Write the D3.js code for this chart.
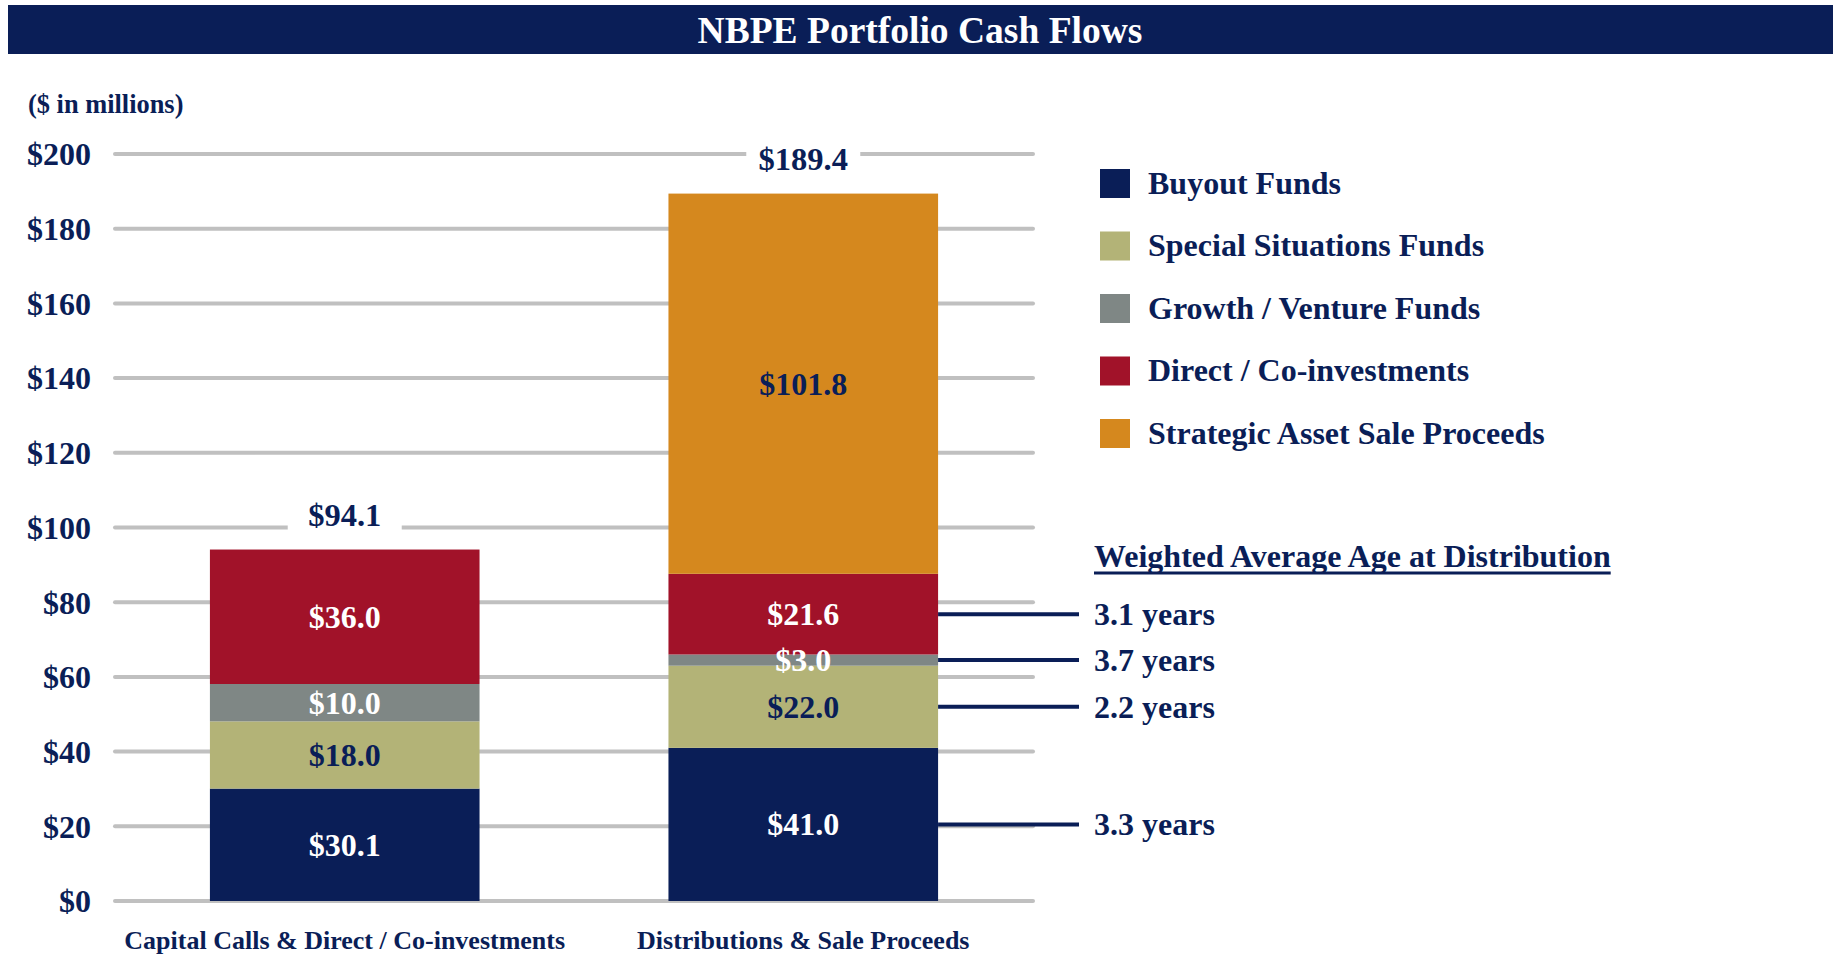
<!DOCTYPE html>
<html><head><meta charset="utf-8">
<script src="https://cdn.jsdelivr.net/npm/d3@7"></script>
<style>
html,body{margin:0;padding:0;background:#fff;}
svg{display:block;font-family:"Liberation Serif","Times New Roman",serif;font-weight:bold;}
</style></head>
<body>
<svg id="chart" width="1835" height="955"></svg>
<script>
// ---- data ----
const categories = ["Capital Calls & Direct / Co-investments", "Distributions & Sale Proceeds"];
const seriesNames = ["Buyout Funds", "Special Situations Funds", "Growth / Venture Funds", "Direct / Co-investments", "Strategic Asset Sale Proceeds"];
const buyout = [30.1, 41.0];
const specialSituations = [18.0, 22.0];
const growthVenture = [10.0, 3.0];
const directCoinv = [36.0, 21.6];
const strategicSale = [0, 101.8];
const totals = [94.1, 189.4];
const yTicks = [0, 20, 40, 60, 80, 100, 120, 140, 160, 180, 200];
const ageLabels = ["3.3 years", "2.2 years", "3.7 years", "3.1 years"]; // buyout, special, growth, direct
const colors = ["#0A1E57", "#B3B377", "#7F8785", "#A11229", "#D5881E"];
const labelColors = ["#fff", "#0A1E57", "#fff", "#fff", "#0A1E57"];
const navy = "#0A1E57";

const svg = d3.select("#chart");

// header
svg.append("rect").attr("x", 8).attr("y", 5).attr("width", 1825).attr("height", 49).attr("fill", navy);
svg.append("text").attr("x", 920).attr("y", 43).attr("text-anchor", "middle")
  .attr("fill", "#fff").attr("font-size", 37.5).text("NBPE Portfolio Cash Flows");

svg.append("text").attr("x", 28).attr("y", 113).attr("fill", navy).attr("font-size", 26.4).text("($ in millions)");

const x = d3.scaleBand().domain(categories).range([115, 1033]).paddingInner(0.412).paddingOuter(0.207);
const y = d3.scaleLinear().domain([0, 200]).range([901, 154]);

// gridlines
svg.append("g").selectAll("line").data(yTicks).join("line")
  .attr("x1", 115).attr("x2", 1033)
  .attr("y1", d => y(d)).attr("y2", d => y(d))
  .attr("stroke", "#C0C0C0").attr("stroke-width", 4).attr("stroke-linecap", "round");

// y axis labels
const yAxis = d3.axisLeft(y).tickValues(yTicks).tickSize(0).tickPadding(0).tickFormat(d => "$" + d);
const gy = svg.append("g").attr("transform", "translate(91,0)").call(yAxis);
gy.select(".domain").remove();
gy.selectAll("text").attr("fill", navy).attr("font-size", 32).attr("font-family", "Liberation Serif")
  .attr("font-weight", "bold").attr("dy", "0.34em");

// stacked data
const rows = categories.map((c, i) => ({
  cat: c, s0: buyout[i], s1: specialSituations[i], s2: growthVenture[i], s3: directCoinv[i], s4: strategicSale[i]
}));
const keys = ["s0", "s1", "s2", "s3", "s4"];
const stacked = d3.stack().keys(keys)(rows);

const segs = [];
stacked.forEach((layer, k) => {
  layer.forEach((d, i) => {
    if (d[1] - d[0] > 0) segs.push({ k, i, y0: d[0], y1: d[1], v: d[1] - d[0], cat: categories[i] });
  });
});

svg.append("g").selectAll("rect").data(segs).join("rect")
  .attr("x", d => x(d.cat)).attr("width", x.bandwidth())
  .attr("y", d => y(d.y1)).attr("height", d => y(d.y0) - y(d.y1))
  .attr("fill", d => colors[d.k]);

svg.append("g").selectAll("text").data(segs).join("text")
  .attr("x", d => x(d.cat) + x.bandwidth() / 2)
  .attr("y", d => y((d.y0 + d.y1) / 2)).attr("dy", "0.34em")
  .attr("text-anchor", "middle").attr("font-size", 32)
  .attr("fill", d => labelColors[d.k])
  .text(d => "$" + d.v.toFixed(1));

// totals with white backing
const tg = svg.append("g").selectAll("g").data(categories).join("g");
tg.append("rect")
  .attr("x", d => x(d) + x.bandwidth() / 2 - 57).attr("width", 114)
  .attr("y", (d, i) => y(totals[i]) - 35 - 20).attr("height", 40).attr("fill", "#fff");
tg.append("text")
  .attr("x", d => x(d) + x.bandwidth() / 2)
  .attr("y", (d, i) => y(totals[i]) - 35).attr("dy", "0.34em")
  .attr("text-anchor", "middle").attr("font-size", 32.5).attr("fill", navy)
  .text((d, i) => "$" + totals[i].toFixed(1));

// category labels
svg.append("g").selectAll("text").data(categories).join("text")
  .attr("x", d => x(d) + x.bandwidth() / 2).attr("y", 949)
  .attr("text-anchor", "middle").attr("font-size", 26).attr("fill", navy)
  .text(d => d);

// legend
const lg = svg.append("g").selectAll("g").data(seriesNames).join("g")
  .attr("transform", (d, i) => `translate(1100,${183 + i * 62.5})`);
lg.append("rect").attr("x", 0).attr("y", -14).attr("width", 30).attr("height", 29).attr("fill", (d, i) => colors[i]);
lg.append("text").attr("x", 48).attr("y", 0).attr("dy", "0.34em").attr("font-size", 32).attr("fill", navy).text(d => d);

// weighted average age
const wt = svg.append("text").attr("x", 1094).attr("y", 567).attr("font-size", 32).attr("fill", navy)
  .text("Weighted Average Age at Distribution");
const wlen = wt.node().getComputedTextLength();
svg.append("line").attr("x1", 1094).attr("x2", 1094 + wlen).attr("y1", 573).attr("y2", 573)
  .attr("stroke", navy).attr("stroke-width", 3);

const cat2 = categories[1];
const ageSegs = segs.filter(d => d.i === 1 && d.k < 4);
const ag = svg.append("g").selectAll("g").data(ageSegs).join("g");
ag.append("line")
  .attr("x1", x(cat2) + x.bandwidth()).attr("x2", 1079)
  .attr("y1", d => y((d.y0 + d.y1) / 2)).attr("y2", d => y((d.y0 + d.y1) / 2))
  .attr("stroke", navy).attr("stroke-width", 4);
ag.append("text").attr("x", 1094)
  .attr("y", d => y((d.y0 + d.y1) / 2)).attr("dy", "0.34em")
  .attr("font-size", 32).attr("fill", navy)
  .text(d => ageLabels[d.k]);
</script>
</body></html>
